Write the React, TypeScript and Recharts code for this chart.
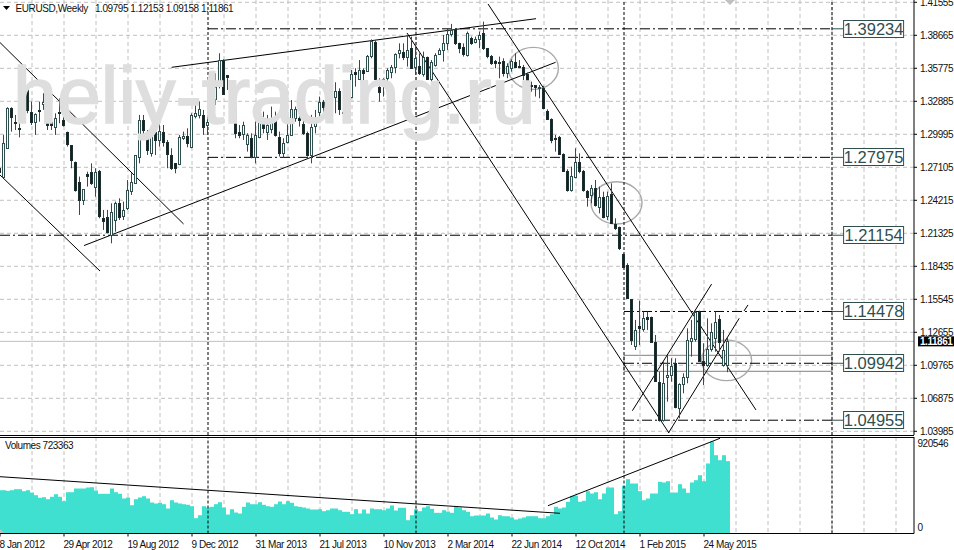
import React from 'react';
import {
  Bar,
  CartesianGrid,
  ComposedChart,
  ReferenceArea,
  ReferenceDot,
  ReferenceLine,
  XAxis,
  YAxis,
} from 'recharts';

const opens = [
  1.2702, 1.2629, 1.2877, 1.3227, 1.3110, 1.3052, 1.3169, 1.3423, 1.3198, 1.3110,
  1.3213, 1.3265, 1.3359, 1.3110, 1.3067, 1.3198, 1.3125, 1.3023, 1.2906, 1.2760,
  1.2585, 1.2424, 1.2649, 1.2672, 1.2541, 1.2681, 1.2264, 1.2278, 1.2118, 1.2249,
  1.2401, 1.2284, 1.2351, 1.2506, 1.2570, 1.2798, 1.3125, 1.2979, 1.2833, 1.3023,
  1.2950, 1.3017, 1.2935, 1.2818, 1.2745, 1.2739, 1.2965, 1.2985, 1.2886, 1.3163,
  1.3169, 1.3169, 1.3081, 1.3359, 1.3306, 1.3461, 1.3650, 1.3519, 1.3359, 1.3218,
  1.3023, 1.3003, 1.2912, 1.2965, 1.2804, 1.2979, 1.3110, 1.3017, 1.3043, 1.3125,
  1.2973, 1.2839, 1.2935, 1.2994, 1.3139, 1.3139, 1.3090, 1.3014, 1.2818, 1.3072,
  1.3198, 1.3286, 1.3256, 1.3330, 1.3330, 1.3382, 1.3198, 1.3169, 1.3323, 1.3548,
  1.3481, 1.3563, 1.3557, 1.3686, 1.3811, 1.3417, 1.3481, 1.3490, 1.3548, 1.3586,
  1.3709, 1.3724, 1.3674, 1.3753, 1.3586, 1.3598, 1.3528, 1.3674, 1.3481, 1.3607,
  1.3703, 1.3738, 1.3796, 1.3875, 1.3919, 1.3796, 1.3761, 1.3694, 1.3840, 1.3811,
  1.3831, 1.3884, 1.3753, 1.3686, 1.3645, 1.3636, 1.3642, 1.3540, 1.3578, 1.3630,
  1.3598, 1.3592, 1.3528, 1.3431, 1.3429, 1.3402, 1.3402, 1.3207, 1.3131, 1.2970,
  1.2979, 1.2827, 1.2681, 1.2512, 1.2629, 1.2760, 1.2678, 1.2506, 1.2468, 1.2532,
  1.2360, 1.2453, 1.2284, 1.2477, 1.2214, 1.2185, 1.1951, 1.1855, 1.1554, 1.1146,
  1.1321, 1.1292, 1.1397, 1.1397, 1.1183, 1.0833, 1.0497, 1.0871, 1.0888, 1.0999,
  1.0600, 1.0813, 1.0871, 1.1192, 1.1204, 1.1447, 1.1017, 1.0979, 1.1117, 1.1213,
  1.1380, 1.0979, 1.09795,
];

const highs = [
  1.2877, 1.2994, 1.3236, 1.3236, 1.3169, 1.3169, 1.3490, 1.3423, 1.3286, 1.3183,
  1.3286, 1.3359, 1.3388, 1.3213, 1.3183, 1.3315, 1.3271, 1.3023, 1.2906, 1.2760,
  1.2629, 1.2518, 1.2672, 1.2745, 1.2702, 1.2687, 1.2337, 1.2337, 1.2395, 1.2410,
  1.2439, 1.2410, 1.2599, 1.2658, 1.2818, 1.3169, 1.3169, 1.3037, 1.3037, 1.3081,
  1.3139, 1.3081, 1.2950, 1.2877, 1.2745, 1.2994, 1.3023, 1.3052, 1.3183, 1.3306,
  1.3286, 1.3213, 1.3330, 1.3411, 1.3534, 1.3709, 1.3656, 1.3519, 1.3359, 1.3271,
  1.3081, 1.3110, 1.3008, 1.3008, 1.3110, 1.3154, 1.3198, 1.3169, 1.3242, 1.3198,
  1.3023, 1.2965, 1.3169, 1.3300, 1.3242, 1.3213, 1.3125, 1.3023, 1.3169, 1.3213,
  1.3330, 1.3300, 1.3344, 1.3373, 1.3455, 1.3402, 1.3242, 1.3286, 1.3563, 1.3578,
  1.3650, 1.3578, 1.3694, 1.3831, 1.3820, 1.3490, 1.3490, 1.3578, 1.3607, 1.3709,
  1.3796, 1.3796, 1.3869, 1.3855, 1.3767, 1.3709, 1.3724, 1.3680, 1.3650, 1.3709,
  1.3753, 1.3869, 1.3928, 1.3966, 1.3928, 1.3802, 1.3796, 1.3899, 1.3855, 1.3855,
  1.3899, 1.3986, 1.3753, 1.3694, 1.3650, 1.3680, 1.3665, 1.3621, 1.3656, 1.3709,
  1.3650, 1.3607, 1.3540, 1.3461, 1.3431, 1.3431, 1.3423, 1.3218, 1.3139, 1.2994,
  1.2985, 1.2833, 1.2693, 1.2716, 1.2877, 1.2833, 1.2687, 1.2512, 1.2556, 1.2599,
  1.2541, 1.2497, 1.2497, 1.2570, 1.2264, 1.2191, 1.1957, 1.1870, 1.1554, 1.1374,
  1.1543, 1.1447, 1.1447, 1.1403, 1.1242, 1.0921, 1.1023, 1.1067, 1.1038, 1.1038,
  1.0819, 1.0906, 1.1300, 1.1374, 1.1455, 1.1455, 1.1169, 1.1388, 1.1344, 1.1447,
  1.1417, 1.1286, 1.12153,
];

const lows = [
  1.2629, 1.2623, 1.2871, 1.3023, 1.3037, 1.2973, 1.3163, 1.3184, 1.3081, 1.2994,
  1.3110, 1.3213, 1.3037, 1.3037, 1.2994, 1.3096, 1.3067, 1.2892, 1.2702, 1.2497,
  1.2293, 1.2380, 1.2541, 1.2556, 1.2453, 1.2264, 1.2162, 1.2132, 1.2045, 1.2147,
  1.2249, 1.2249, 1.2337, 1.2468, 1.2570, 1.2745, 1.2950, 1.2818, 1.2804, 1.2818,
  1.2892, 1.2892, 1.2702, 1.2687, 1.2658, 1.2730, 1.2950, 1.2886, 1.2877, 1.3139,
  1.3139, 1.2994, 1.2994, 1.3213, 1.3256, 1.3402, 1.3353, 1.3388, 1.3271, 1.2965,
  1.2965, 1.2950, 1.2848, 1.2789, 1.2745, 1.2965, 1.3008, 1.2950, 1.3008, 1.2979,
  1.2804, 1.2798, 1.2921, 1.2994, 1.3110, 1.3067, 1.2994, 1.2804, 1.2745, 1.3008,
  1.3125, 1.3184, 1.3184, 1.3213, 1.3184, 1.3169, 1.3102, 1.3154, 1.3315, 1.3417,
  1.3475, 1.3461, 1.3548, 1.3665, 1.3475, 1.3286, 1.3330, 1.3446, 1.3490, 1.3534,
  1.3665, 1.3650, 1.3592, 1.3578, 1.3519, 1.3519, 1.3505, 1.3475, 1.3461, 1.3592,
  1.3694, 1.3636, 1.3738, 1.3855, 1.3782, 1.3709, 1.3680, 1.3680, 1.3782, 1.3796,
  1.3753, 1.3738, 1.3665, 1.3607, 1.3578, 1.3490, 1.3505, 1.3490, 1.3548, 1.3578,
  1.3578, 1.3475, 1.3402, 1.3373, 1.3330, 1.3315, 1.3218, 1.3125, 1.2921, 1.2848,
  1.2818, 1.2672, 1.2497, 1.2497, 1.2614, 1.2658, 1.2497, 1.2366, 1.2395, 1.2366,
  1.2307, 1.2264, 1.2249, 1.2214, 1.2162, 1.1986, 1.1826, 1.1563, 1.1154, 1.1111,
  1.1154, 1.1271, 1.1286, 1.1183, 1.0833, 1.0483, 1.0483, 1.0658, 1.0833, 1.0600,
  1.0512, 1.0731, 1.0819, 1.1052, 1.1183, 1.1008, 1.0804, 1.0964, 1.1096, 1.1096,
  1.1096, 1.0964, 1.09158,
];

const closes = [
  1.2672, 1.2926, 1.3227, 1.3154, 1.3102, 1.3043, 1.3402, 1.3213, 1.3110, 1.3175,
  1.3204, 1.3286, 1.3081, 1.3081, 1.3139, 1.3183, 1.3081, 1.2915, 1.2775, 1.2512,
  1.2424, 1.2518, 1.2638, 1.2570, 1.2672, 1.2284, 1.2243, 1.2147, 1.2322, 1.2395,
  1.2278, 1.2337, 1.2512, 1.2585, 1.2818, 1.3125, 1.3037, 1.2862, 1.3023, 1.2950,
  1.3031, 1.2935, 1.2827, 1.2707, 1.2702, 1.2979, 1.2985, 1.2926, 1.3169, 1.3183,
  1.3218, 1.3067, 1.3110, 1.3321, 1.3411, 1.3650, 1.3353, 1.3499, 1.3335, 1.3014,
  1.2994, 1.3081, 1.2994, 1.2810, 1.2994, 1.3110, 1.3052, 1.3081, 1.3110, 1.2994,
  1.2839, 1.2926, 1.2994, 1.3218, 1.3218, 1.3125, 1.3008, 1.2818, 1.3061, 1.3110,
  1.3286, 1.3242, 1.3300, 1.3321, 1.3382, 1.3218, 1.3183, 1.3286, 1.3528, 1.3528,
  1.3563, 1.3540, 1.3686, 1.3820, 1.3481, 1.3373, 1.3470, 1.3563, 1.3586, 1.3703,
  1.3738, 1.3674, 1.3738, 1.3578, 1.3665, 1.3540, 1.3674, 1.3481, 1.3636, 1.3694,
  1.3738, 1.3796, 1.3875, 1.3913, 1.3796, 1.3753, 1.3703, 1.3884, 1.3802, 1.3831,
  1.3869, 1.3753, 1.3686, 1.3627, 1.3621, 1.3627, 1.3540, 1.3598, 1.3645, 1.3592,
  1.3586, 1.3519, 1.3461, 1.3426, 1.3411, 1.3411, 1.3227, 1.3131, 1.2950, 1.2961,
  1.2827, 1.2681, 1.2512, 1.2635, 1.2760, 1.2678, 1.2512, 1.2453, 1.2526, 1.2380,
  1.2453, 1.2278, 1.2459, 1.2226, 1.2176, 1.2001, 1.1840, 1.1563, 1.1198, 1.1286,
  1.1300, 1.1388, 1.1380, 1.1183, 1.0842, 1.0497, 1.0819, 1.0888, 1.0970, 1.0608,
  1.0813, 1.0877, 1.1198, 1.1213, 1.1447, 1.1017, 1.0979, 1.1117, 1.1271, 1.1359,
  1.1183, 1.1111, 1.11861,
];

const volumes = [
  433000, 433000, 427000, 433000, 443000, 443000, 423000, 433000, 410000, 383000,
  357000, 363000, 343000, 367000, 393000, 367000, 323000, 413000, 413000, 450000,
  450000, 450000, 460000, 463000, 430000, 397000, 397000, 397000, 450000, 413000,
  397000, 350000, 360000, 283000, 343000, 360000, 373000, 350000, 310000, 300000,
  307000, 293000, 250000, 333000, 310000, 300000, 293000, 287000, 273000, 153000,
  183000, 273000, 260000, 267000, 293000, 313000, 260000, 190000, 243000, 210000,
  200000, 267000, 310000, 293000, 293000, 313000, 287000, 273000, 267000, 293000,
  320000, 293000, 323000, 307000, 273000, 267000, 260000, 250000, 240000, 240000,
  243000, 223000, 233000, 250000, 250000, 233000, 217000, 217000, 193000, 243000,
  200000, 240000, 200000, 250000, 243000, 243000, 233000, 250000, 280000, 230000,
  257000, 257000, 133000, 183000, 243000, 223000, 260000, 273000, 247000, 207000,
  207000, 233000, 220000, 207000, 267000, 260000, 233000, 217000, 173000, 180000,
  180000, 180000, 200000, 160000, 140000, 183000, 173000, 173000, 160000, 140000,
  150000, 160000, 173000, 173000, 173000, 153000, 153000, 173000, 193000, 267000,
  250000, 260000, 317000, 377000, 377000, 317000, 327000, 423000, 400000, 413000,
  343000, 400000, 460000, 460000, 193000, 223000, 477000, 543000, 500000, 500000,
  423000, 333000, 350000, 400000, 400000, 517000, 510000, 523000, 410000, 410000,
  493000, 450000, 407000, 510000, 533000, 583000, 523000, 700000, 920546, 783000,
  733000, 783000, 723363,
];

const priceTicks = [
  1.41555, 1.38665, 1.35775, 1.32885, 1.29995, 1.27105, 1.24215, 1.21325, 1.18435, 1.15545,
  1.12655, 1.09765, 1.06875, 1.03985,
];
const gridWeeks = [
  8, 16, 24, 32, 40, 48, 56, 64, 72, 80, 88, 96, 104, 112, 120, 128, 136, 144, 152, 160,
  168, 176, 184, 192, 200, 208, 216, 224,
];
const separatorWeeks = [52, 104, 156, 208];
const dateWeeks = [0, 16, 32, 48, 64, 80, 96, 112, 128, 144, 160, 176];
const dateLabels = [
  '8 Jan 2012', '29 Apr 2012', '19 Aug 2012', '9 Dec 2012', '31 Mar 2013', '21 Jul 2013',
  '10 Nov 2013', '2 Mar 2014', '22 Jun 2014', '12 Oct 2014', '1 Feb 2015', '24 May 2015',
];

// horizontal levels: price and the week they start at
const levels = [1.39234, 1.27975, 1.21154, 1.14478, 1.09942, 1.04955];
const levelStarts = [52, 52, 0, 156, 156, 156];

// trend lines as [week, price, week, price]
const trendLines = [
  [0, 1.3803, 45.9, 1.2214],
  [0, 1.2643, 25, 1.1802],
  [21, 1.2025, 138.9, 1.363],
  [42.9, 1.3586, 134, 1.4012],
  [122, 1.4141, 189, 1.0585],
  [101.75, 1.3887, 167.25, 1.0383],
  [158.1, 1.0579, 177.9, 1.1688],
  [167.1, 1.0383, 184.8, 1.1388],
  [186, 1.1452, 187, 1.1505],
];
const volumeLines = [
  [0, 568000, 140, 202000],
  [137, 278000, 180, 952000],
];
// circled zones as [week, price, week, price]
const zones = [
  [127.1, 1.3761, 139.6, 1.3393],
  [147.75, 1.2584, 160.5, 1.2214],
  [175.4, 1.1198, 187.9, 1.0842],
];
const rangeBox = [156, 1.1064, 208, 1.0924];

const lastPrice = 1.11861;
const FONT = '"Liberation Sans", Arial, sans-serif';
const SLATE = '#2f4f4f';
const GRID = '#c0c0c0';
const WEEK_DOMAIN: [number, number] = [0, 228.5];
const PRICE_DOMAIN: [number, number] = [1.0366, 1.41756];

const candles = opens.map((open, week) => ({
  week,
  open,
  high: highs[week],
  low: lows[week],
  close: closes[week],
}));
const volumeRows = volumes.map((volume, week) => ({ week, volume }));

const smallText = { fontFamily: FONT, fontSize: 10, letterSpacing: -0.45, fill: '#111' };

const Candle = (props: any) => {
  const { x, y, width, height, payload } = props;
  const top = Math.min(y, y + height);
  const span = Math.abs(height);
  const range = payload.high - payload.low || 1;
  const toY = (v: number) => top + ((payload.high - v) / range) * span;
  const cx = Math.floor(x + width / 2) + 0.5;
  const y1 = Math.round(toY(Math.max(payload.open, payload.close))) + 0.5;
  const y2 = Math.round(toY(Math.min(payload.open, payload.close))) + 0.5;
  const bull = payload.close >= payload.open;
  return (
    <g>
      <line x1={cx} x2={cx} y1={top} y2={top + span} stroke={SLATE} />
      <rect
        x={cx - 1}
        y={y1}
        width={2}
        height={Math.max(y2 - y1, 1)}
        fill={bull ? '#fff' : '#14211f'}
        stroke={bull ? SLATE : '#1c2e2e'}
      />
    </g>
  );
};

const VolumeBar = (props: any) => {
  const { x, y, width, height } = props;
  return <rect x={Math.round(x + width / 2) - 2} y={y} width={4} height={height} fill="#40e0d0" />;
};

const LevelBox = (props: any) => {
  const { cx, cy, label } = props;
  return (
    <g>
      <rect x={cx - 30} y={Math.round(cy) - 8.5} width={60} height={17} fill="#fff" stroke={SLATE} />
      <text x={cx} y={Math.round(cy) + 6} textAnchor="middle" fontFamily={FONT} fontSize={16.5} fill={SLATE}>
        {label}
      </text>
    </g>
  );
};

const LastPriceBox = (props: any) => {
  const { cx, cy } = props;
  return (
    <g>
      <rect x={cx + 4} y={cy - 5} width={36} height={10} fill="#000" />
      <text x={cx + 6} y={cy + 3.5} {...smallText} fill="#fff" fontWeight="bold">
        {lastPrice.toFixed(5)}
      </text>
    </g>
  );
};

const Zone = (props: any) => {
  const { x, y, width, height } = props;
  return (
    <ellipse
      cx={x + width / 2}
      cy={y + height / 2}
      rx={width / 2}
      ry={height / 2}
      fill="none"
      stroke="#a9a9a9"
      strokeWidth={1.4}
    />
  );
};

const DateTick = (props: any) => {
  const { x, y, index } = props;
  return (
    <text x={x - 0.5} y={y + 9} {...smallText}>
      {dateLabels[index]}
    </text>
  );
};

const VolumeTick = (props: any) => {
  const { x, y, payload } = props;
  return (
    <text x={x + 3.5} y={y + (payload.value === 0 ? -3 : 6)} {...smallText}>
      {payload.value}
    </text>
  );
};

export default function App() {
  return (
    <div style={{ position: 'relative', width: 954, height: 550, background: '#fff', overflow: 'hidden' }}>
      <style>{'body{margin:0;background:#fff}'}</style>

      <div style={{ position: 'absolute', left: 0, top: 0 }}>
        <ComposedChart width={954} height={441} data={candles} margin={{ top: 0, right: 0, bottom: 6, left: 0 }}>
          <CartesianGrid
            stroke={GRID}
            strokeDasharray="4 3"
            horizontalValues={priceTicks}
            verticalValues={gridWeeks}
          />
          <XAxis dataKey="week" type="number" domain={WEEK_DOMAIN} allowDataOverflow hide />
          <YAxis
            orientation="right"
            width={40}
            type="number"
            domain={PRICE_DOMAIN}
            allowDataOverflow
            ticks={priceTicks}
            interval={0}
            tickFormatter={(v: number) => v.toFixed(5)}
            tick={smallText}
            tickSize={3}
            tickMargin={3}
            axisLine={{ stroke: '#000' }}
            tickLine={{ stroke: '#000' }}
          />
          {separatorWeeks.map((w) => (
            <ReferenceLine key={w} x={w} stroke="#000" strokeDasharray="3 2" />
          ))}
          <ReferenceLine y={lastPrice} stroke={GRID} />
          {levels.map((level, i) => (
            <ReferenceLine
              key={level}
              segment={[
                { x: levelStarts[i], y: level },
                { x: 208, y: level },
              ]}
              stroke="#000"
              strokeDasharray="10 3 2 3"
            />
          ))}
          {levels.map((level) => (
            <ReferenceLine
              key={level}
              segment={[
                { x: 208, y: level },
                { x: 211, y: level },
              ]}
              stroke={SLATE}
            />
          ))}
          {trendLines.map((t) => (
            <ReferenceLine
              key={t.join()}
              segment={[
                { x: t[0], y: t[1] },
                { x: t[2], y: t[3] },
              ]}
              stroke="#000"
            />
          ))}
          <ReferenceArea
            x1={rangeBox[0]}
            y1={rangeBox[1]}
            x2={rangeBox[2]}
            y2={rangeBox[3]}
            fill="none"
            stroke="#808080"
          />
          {zones.map((z) => (
            <ReferenceArea key={z.join()} x1={z[0]} y1={z[1]} x2={z[2]} y2={z[3]} shape={Zone} />
          ))}
          {levels.map((level) => (
            <ReferenceDot
              key={level}
              x={218.4}
              y={level}
              r={1}
              shape={(p: any) => <LevelBox {...p} label={level.toFixed(5)} />}
            />
          ))}
          <ReferenceDot x={228.5} y={lastPrice} r={1} shape={LastPriceBox} />
        </ComposedChart>
      </div>

      {/* candles sit above the drawn objects, so they get their own layer */}
      <div style={{ position: 'absolute', left: 0, top: 0 }}>
        <ComposedChart width={954} height={441} data={candles} margin={{ top: 0, right: 40, bottom: 6, left: 0 }}>
          <XAxis dataKey="week" type="number" domain={WEEK_DOMAIN} allowDataOverflow hide />
          <YAxis type="number" domain={PRICE_DOMAIN} allowDataOverflow hide />
          <Bar dataKey={(d: any) => [d.low, d.high]} barSize={3} shape={Candle} isAnimationActive={false} />
        </ComposedChart>
      </div>

      <svg width={954} height={441} style={{ position: 'absolute', left: 0, top: 0, pointerEvents: 'none' }}>
        <text x={13} y={123} fontFamily={FONT} fontSize={79} fill="#dedede" stroke="#dedede" strokeWidth={1.6}>
          heliy-trading.ru
        </text>
        <polygon points="3,6 10,6 6.5,10" fill="#000" />
        <polygon points="725,0 735,0 730,5" fill="#c0c0c0" />
        <text x={15.5} y={12} {...smallText} letterSpacing={-0.4}>
          EURUSD,Weekly
        </text>
        <text x={95} y={12} {...smallText}>
          1.09795 1.12153 1.09158 1.11861
        </text>
      </svg>

      <div style={{ position: 'absolute', left: 0, top: 437 }}>
        <ComposedChart width={954} height={113} data={volumeRows} margin={{ top: 0, right: 0, bottom: 0, left: 0 }}>
          <CartesianGrid stroke={GRID} strokeDasharray="4 3" horizontal={false} verticalValues={gridWeeks} />
          <XAxis
            dataKey="week"
            type="number"
            domain={WEEK_DOMAIN}
            allowDataOverflow
            ticks={dateWeeks}
            interval={0}
            height={16.5}
            tick={DateTick}
            tickSize={3}
            axisLine={{ stroke: '#000' }}
            tickLine={{ stroke: '#000' }}
          />
          <YAxis
            orientation="right"
            width={40}
            type="number"
            domain={[0, 965000]}
            allowDataOverflow
            ticks={[0, 920546]}
            interval={0}
            tick={VolumeTick}
            tickLine={false}
            tickSize={0}
            tickMargin={0}
            axisLine={{ stroke: '#000' }}
          />
          {separatorWeeks.map((w) => (
            <ReferenceLine key={w} x={w} stroke="#000" strokeDasharray="3 2" />
          ))}
          <Bar dataKey="volume" barSize={4} shape={VolumeBar} isAnimationActive={false} />
          <ReferenceLine y={0} stroke={GRID} strokeDasharray="4 3" />
          {volumeLines.map((t) => (
            <ReferenceLine
              key={t.join()}
              segment={[
                { x: t[0], y: t[1] },
                { x: t[2], y: t[3] },
              ]}
              stroke="#000"
            />
          ))}
        </ComposedChart>
      </div>

      <svg width={954} height={550} style={{ position: 'absolute', left: 0, top: 0, pointerEvents: 'none' }}>
        <line x1={0} x2={914} y1={435.5} y2={435.5} stroke="#000" />
        <line x1={0} x2={914} y1={437.5} y2={437.5} stroke="#000" />
        <text x={5} y={449} {...smallText}>
          Volumes 723363
        </text>
        <polygon points="0,529 0,533 4,533" fill="#c0c0c0" />
      </svg>
    </div>
  );
}
